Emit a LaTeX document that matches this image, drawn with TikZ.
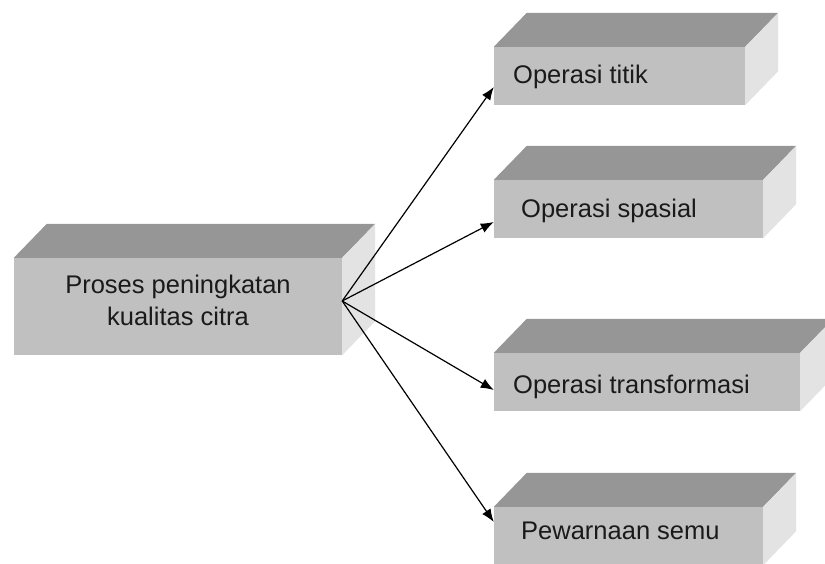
\documentclass[tikz,border=0pt]{standalone}
\usepackage{fontspec}
\setmainfont{Liberation Sans}
\usetikzlibrary{calc,arrows.meta}

\definecolor{frontgray}{HTML}{C0C0C0}
\definecolor{topgray}{HTML}{969696}
\definecolor{sidegray}{HTML}{E3E3E3}
\definecolor{ink}{HTML}{1A1A1A}

\tikzset{
  front/.style={fill=frontgray, draw=none, inner sep=0pt, minimum height=58pt},
  label/.style={text=ink, inner sep=0pt, font=\fontsize{25.5}{32}\selectfont},
  link/.style={draw=black, line width=1.2pt, -{Latex[length=13pt,width=10pt]}},
}

\begin{document}
\begin{tikzpicture}[x=1pt, y=-1pt]
  \useasboundingbox (0,0) rectangle (825,563);
  \clip (0,0) rectangle (825,563);

  % front faces of the blocks
  \node[front, minimum width=328pt, minimum height=97pt] (b0) at (178,306.5) {};
  \node[front, minimum width=251pt] (b1) at (619.5,76) {};
  \node[front, minimum width=269pt] (b2) at (628.5,209) {};
  \node[front, minimum width=306pt] (b3) at (647,382) {};
  \node[front, minimum width=269pt] (b4) at (628.5,536) {};

  % top and side faces give each block its depth
  \foreach \b in {b0,b1,b2,b3,b4} {
    \fill[topgray] (\b.north west) -- ++(33,-34)
      -- ($(\b.north east)+(33,-34)$) -- (\b.north east) -- cycle;
    \fill[sidegray] (\b.north east) -- ($(\b.north east)+(33,-34)$)
      -- ($(\b.south east)+(33,-34)$) -- (\b.south east) -- cycle;
  }

  % texts
  \node[label, align=center] (t0) at (178,300) {Proses peningkatan\\kualitas citra};
  \node[label, anchor=base west] (t1) at (513,83) {Operasi titik};
  \node[label, anchor=base west] (t2) at (521,217) {Operasi spasial};
  \node[label, anchor=base west] (t3) at (513,393) {Operasi transformasi};
  \node[label, anchor=base west] (t4) at (521,539) {Pewarnaan semu};

  % connectors
  \coordinate (src) at ([yshift=5.5pt]b0.east);
  \draw[link] (src) -- ([yshift=-11pt]b1.west);
  \draw[link] (src) -- ([yshift=-13pt]b2.west);
  \draw[link] (src) -- ([yshift=-8pt]b3.west);
  \draw[link] (src) -- ([yshift=14pt]b4.west);
\end{tikzpicture}
\end{document}
